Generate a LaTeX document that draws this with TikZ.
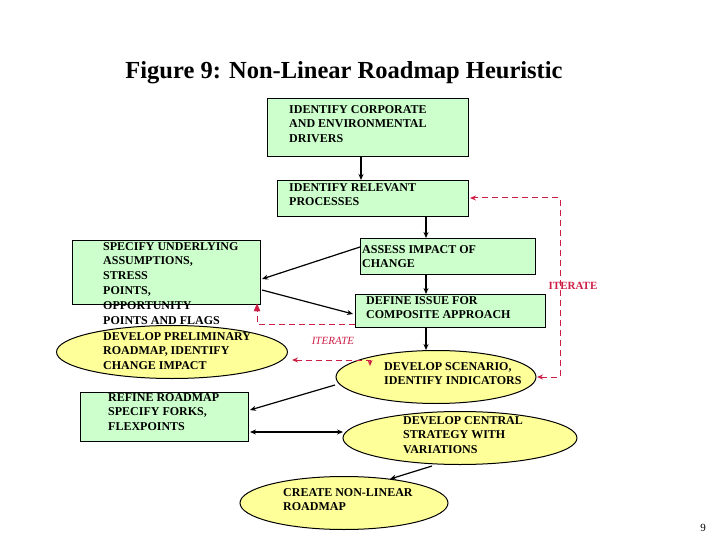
\documentclass[tikz,border=0pt]{standalone}
\usepackage{fontspec}
\setmainfont{Liberation Serif}
\usetikzlibrary{arrows.meta,shapes.geometric}
\definecolor{gfill}{RGB}{204,255,204}
\definecolor{yfill}{RGB}{255,255,153}
\definecolor{ired}{RGB}{205,30,70}
\begin{document}
\begin{tikzpicture}[x=1pt,y=-1pt,
  box/.style={draw,fill=gfill,line width=0.8pt},
  ell/.style={draw,fill=yfill,ellipse,line width=1pt},
  txt/.style={anchor=north west,align=left,font=\bfseries\fontsize{12}{14.8}\selectfont,inner sep=0pt},
  arr/.style={-{Stealth[length=6pt,width=5pt]},line width=1.2pt},
  darr/.style={{Stealth[length=6pt,width=5pt]}-{Stealth[length=6pt,width=5pt]},line width=1.2pt},
  red/.style={draw=ired,line width=1pt,dash pattern=on 6pt off 4pt}]
\useasboundingbox (0,0) rectangle (720,540);
\node[font=\bfseries\fontsize{24.5}{28}\selectfont] (title) at (344,73) {Figure 9: Non-Linear Roadmap Heuristic};
% boxes
\draw[box] (267,98) rectangle (468,156);
\node[txt] (b1) at (289,105) {IDENTIFY CORPORATE\\AND ENVIRONMENTAL\\DRIVERS};
\draw[box] (277,180) rectangle (468,216);
\node[txt] (b2) at (289,183) {IDENTIFY RELEVANT\\PROCESSES};
\draw[box] (360,238) rectangle (535,274);
\node[txt] (b3) at (362,245) {ASSESS IMPACT OF\\CHANGE};
\draw[box] (355,294) rectangle (545,327);
\node[txt] (b4) at (366,296) {DEFINE ISSUE FOR\\COMPOSITE APPROACH};
\draw[box] (72,240) rectangle (260,304);
\node[ell,minimum width=231,minimum height=53] (e1) at (172,352) {};
\node[txt] (b5) at (103,242) {SPECIFY UNDERLYING\\ASSUMPTIONS,\\STRESS\\POINTS,\\OPPORTUNITY\\POINTS AND FLAGS};
\node[txt] (e1t) at (103,332) {DEVELOP PRELIMINARY\\ROADMAP, IDENTIFY\\CHANGE IMPACT};
\node[ell,minimum width=200,minimum height=53] (e2) at (436,377) {};
\node[txt] (e2t) at (384,362) {DEVELOP SCENARIO,\\IDENTIFY INDICATORS};
\draw[box] (80,392) rectangle (248,441);
\node[txt] (b6) at (108,393) {REFINE ROADMAP\\SPECIFY FORKS,\\FLEXPOINTS};
\node[ell,minimum width=234,minimum height=53] (e3) at (460,438) {};
\node[txt] (e3t) at (403,416) {DEVELOP CENTRAL\\STRATEGY WITH\\VARIATIONS};
\node[ell,minimum width=208,minimum height=53] (e4) at (344,503) {};
\node[txt] (e4t) at (283,488) {CREATE NON-LINEAR\\ROADMAP};
\node[font=\fontsize{11}{12}\selectfont] (pg) at (703,528) {9};
% coordinates
\coordinate (p1) at (361,156); \coordinate (p2) at (361,180);
\coordinate (p3) at (426,216); \coordinate (p4) at (426,238);
\coordinate (p5) at (426,274); \coordinate (p6) at (426,294);
\coordinate (p7) at (426,327); \coordinate (p8) at (426,350);
\coordinate (a1) at (360,247); \coordinate (a2) at (262,279);
\coordinate (s1) at (262,290); \coordinate (s2) at (353,314);
\coordinate (c1) at (335,385); \coordinate (c2) at (250,410);
\coordinate (d1) at (250,432); \coordinate (d2) at (343,432);
\coordinate (f1) at (432,466); \coordinate (f2) at (390,479);
\draw[arr] (p1) -- (p2);
\draw[arr] (p3) -- (p4);
\draw[arr] (p5) -- (p6);
\draw[arr] (p7) -- (p8);
\draw[arr] (a1) -- (a2);
\draw[arr] (s1) -- (s2);
\draw[arr] (c1) -- (c2);
\draw[darr] (d1) -- (d2);
\draw[arr] (f1) -- (f2);
% red iterate
\coordinate (r1) at (355,324); \coordinate (r2) at (257,324); \coordinate (r3) at (257,305);
\draw[red] (r1) -- (r2) -- (r3);
\draw[ired,fill=ired] (257,304) -- (254,311) -- (260,311) -- cycle;
\coordinate (q1) at (292,360); \coordinate (q2) at (370,360); \coordinate (q3) at (370,366);
\draw[red,{Stealth[length=6pt,width=5pt]}-{Stealth[length=6pt,width=5pt]}] (q1) -- (q2) -- (q3);
\node[text=ired,font=\itshape\fontsize{11}{12}\selectfont] (it1) at (333,341) {ITERATE};
\coordinate (w1) at (537,377); \coordinate (w2) at (560,377); \coordinate (w3) at (560,198); \coordinate (w4) at (470,198);
\draw[red,{Stealth[length=6pt,width=5pt]}-{Stealth[length=6pt,width=5pt]}] (w1) -- (w2) -- (w3) -- (w4);
\node[text=ired,font=\bfseries\fontsize{11}{12}\selectfont] (it2) at (573,286) {ITERATE};
\end{tikzpicture}
\end{document}
